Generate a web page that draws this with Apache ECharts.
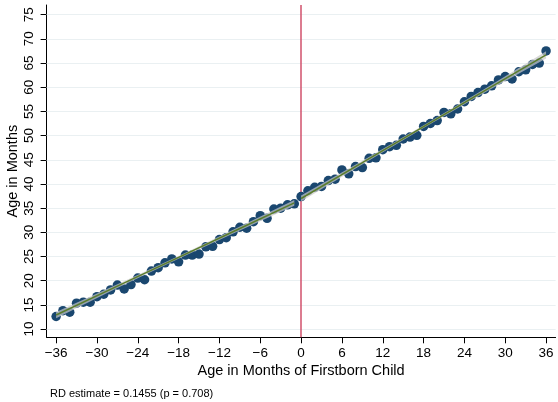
<!DOCTYPE html>
<html>
<head>
<meta charset="utf-8">
<script src="https://cdn.jsdelivr.net/npm/echarts@6/dist/echarts.min.js"></script>
<style>
html,body{margin:0;padding:0;background:#fff;}
#c{width:558px;height:402px;}
</style>
</head>
<body>
<div id="c"></div>
<script>
// ---- data ----
const months = [-36,-35,-34,-33,-32,-31,-30,-29,-28,-27,-26,-25,-24,-23,-22,-21,-20,-19,-18,-17,-16,-15,-14,-13,-12,-11,-10,-9,-8,-7,-6,-5,-4,-3,-2,-1,
  0,1,2,3,4,5,6,7,8,9,10,11,12,13,14,15,16,17,18,19,20,21,22,23,24,25,26,27,28,29,30,31,32,33,34,35,36];
const ageMonths = [12.6,13.8,13.5,15.35,15.55,15.55,16.7,17.2,18.1,19.1,18.3,19.2,20.55,20.2,22.0,22.7,23.7,24.5,23.9,25.3,25.3,25.5,27.0,27.1,28.5,28.9,30.1,31.05,30.85,32.2,33.45,32.9,34.8,35.0,35.7,35.9,
  37.4,38.6,39.3,39.5,40.7,41.0,42.9,42.1,43.6,43.4,45.3,45.4,47.1,47.7,48.0,49.3,49.7,50.05,51.9,52.5,53.1,54.8,54.5,55.5,57.0,58.1,58.9,59.6,60.3,61.5,62.2,61.7,63.2,63.6,64.7,65.0,67.5];

const fitLeftX  = [-36, -27, -18, -9, -1];
const fitLeftY  = [12.9, 18.87, 24.83, 30.8, 36.1];
const ciLeftLo  = [12.25, 18.47, 24.53, 30.4, 35.5];
const ciLeftHi  = [13.55, 19.27, 25.13, 31.2, 36.7];

const fitRightX = [0, 9, 18, 27, 36];
const fitRightY = [37.0, 44.4, 51.85, 59.3, 66.7];
const ciRightLo = [36.4, 44.0, 51.55, 58.9, 65.95];
const ciRightHi = [37.6, 44.8, 52.15, 59.7, 67.45];

const cutoff = 0;
const xTicks = [-36,-30,-24,-18,-12,-6,0,6,12,18,24,30,36];
const yTicks = [10,15,20,25,30,35,40,45,50,55,60,65,70,75];
const noteText = 'RD estimate = 0.1455 (p = 0.708)';

// ---- chart ----
const FONT = '"Liberation Sans", Arial, Helvetica, sans-serif';
const chart = echarts.init(document.getElementById('c'), null, {renderer: 'canvas'});

function bandSeries(xs, lo, hi) {
  return {
    type: 'custom',
    z: 3,
    silent: true,
    clip: true,
    data: [[xs[0], lo[0]]],
    renderItem: function (params, api) {
      const pts = [];
      for (let i = 0; i < xs.length; i++) pts.push(api.coord([xs[i], hi[i]]));
      for (let i = xs.length - 1; i >= 0; i--) pts.push(api.coord([xs[i], lo[i]]));
      return {
        type: 'polygon',
        shape: {points: pts},
        style: {fill: 'rgba(200,200,200,0.7)', stroke: null}
      };
    }
  };
}

const option = {
  animation: false,
  backgroundColor: '#ffffff',
  textStyle: {fontFamily: FONT},
  grid: {left: 46.6, right: 2.4, top: 5, bottom: 64.7, containLabel: false, outerBoundsMode: 'none'},
  xAxis: {
    type: 'value',
    min: -37.4, max: 37.4,
    name: 'Age in Months of Firstborn Child',
    nameLocation: 'middle',
    nameGap: 26,
    nameMoveOverlap: false,
    nameTextStyle: {fontSize: 14.5, color: '#000', fontFamily: FONT},
    axisLine: {show: true, onZero: false, lineStyle: {color: '#000', width: 1}},
    axisTick: {show: true, length: 6, lineStyle: {color: '#000'}, customValues: xTicks},
    axisLabel: {
      customValues: xTicks, margin: 9, fontSize: 13.5, color: '#000', fontFamily: FONT,
      formatter: v => (v < 0 ? '\u2212' + Math.abs(v) : String(v))
    },
    splitLine: {show: false}
  },
  yAxis: {
    type: 'value',
    min: 8.3, max: 77.0,
    name: 'Age in Months',
    nameLocation: 'middle',
    nameGap: 26,
    nameMoveOverlap: false,
    nameRotate: 90,
    nameTextStyle: {fontSize: 14.5, color: '#000', fontFamily: FONT},
    axisLine: {show: true, onZero: false, lineStyle: {color: '#000', width: 1}},
    axisTick: {show: true, length: 6, lineStyle: {color: '#000'}, customValues: yTicks},
    axisLabel: {customValues: yTicks, rotate: 90, margin: 10, fontSize: 13.5, color: '#000', fontFamily: FONT},
    splitLine: {show: false}
  },
  graphic: [{
    type: 'text',
    left: 50, top: 388,
    style: {text: noteText, fontSize: 11, fill: '#000', fontFamily: FONT}
  }],
  series: [
    {
      type: 'line',
      z: 1,
      data: [],
      silent: true,
      markLine: {
        silent: true, symbol: 'none', animation: false, z: 1,
        label: {show: false},
        lineStyle: {color: '#eaf0f2', width: 1, type: 'solid'},
        data: yTicks.map(v => ({yAxis: v}))
      }
    },
    {
      type: 'scatter',
      z: 2,
      symbol: 'circle',
      symbolSize: 9.5,
      itemStyle: {color: '#1a476f', opacity: 1},
      data: months.map((m, i) => [m, ageMonths[i]]),
      markLine: {
        silent: true, symbol: 'none', animation: false, z: 1,
        label: {show: false},
        lineStyle: {color: '#d0506b', width: 1.5, type: 'solid'},
        data: [{xAxis: cutoff}]
      }
    },
    bandSeries(fitLeftX, ciLeftLo, ciLeftHi),
    bandSeries(fitRightX, ciRightLo, ciRightHi),
    {
      type: 'line', z: 4, symbol: 'none', silent: true,
      lineStyle: {color: '#5b7d2b', width: 1.5},
      data: fitLeftX.map((x, i) => [x, fitLeftY[i]])
    },
    {
      type: 'line', z: 4, symbol: 'none', silent: true,
      lineStyle: {color: '#5b7d2b', width: 1.5},
      data: fitRightX.map((x, i) => [x, fitRightY[i]])
    }
  ]
};
chart.setOption(option);
</script>
</body>
</html>
